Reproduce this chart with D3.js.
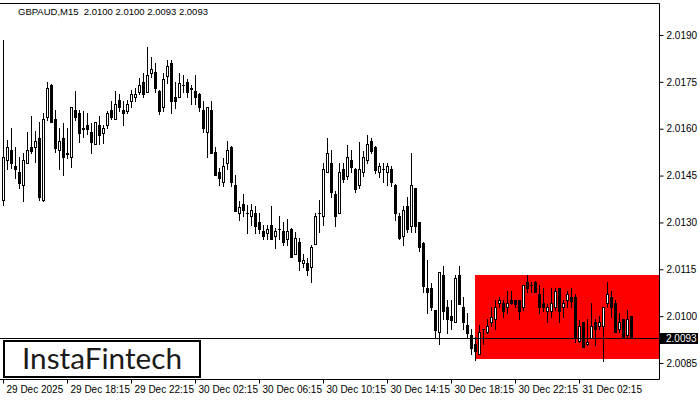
<!DOCTYPE html>
<html><head><meta charset="utf-8">
<script src="https://cdn.jsdelivr.net/npm/d3@7"></script>
<style>
html,body{margin:0;padding:0;background:#fff;}
svg{display:block;font-family:"Liberation Sans",Arial,sans-serif;}
</style></head>
<body><svg id="chart" width="700" height="400"></svg>
<script>
const title = "GBPAUD,M15  2.0100 2.0100 2.0093 2.0093";
const opens = [2.01372,2.01500,2.01532,2.01481,2.01460,2.01420,2.01489,2.01540,2.01540,2.01569,
2.01372,2.01639,2.01740,2.01630,2.01532,2.01569,2.01520,2.01508,2.01660,2.01651,
2.01602,2.01611,2.01590,2.01550,2.01611,2.01587,2.01611,2.01659,2.01630,2.01691,
2.01660,2.01658,2.01690,2.01701,2.01719,2.01751,2.01719,2.01779,2.01782,2.01721,
2.01669,2.01770,2.01809,2.01701,2.01701,2.01740,2.01750,2.01730,2.01721,2.01711,
2.01660,2.01590,2.01660,2.01524,2.01461,2.01428,2.01489,2.01542,2.01420,2.01329,
2.01358,2.01329,2.01319,2.01329,2.01300,2.01271,2.01267,2.01292,2.01258,2.01278,
2.01271,2.01247,2.01279,2.01199,2.01238,2.01169,2.01171,2.01158,2.01230,2.01329,
2.01319,2.01460,2.01491,2.01390,2.01329,2.01471,2.01450,2.01500,2.01471,2.01420,
2.01460,2.01500,2.01561,2.01542,2.01460,2.01471,2.01460,2.01471,2.01420,2.01321,
2.01258,2.01351,2.01290,2.01409,2.01300,2.01233,2.01089,2.01089,2.01020,2.00948,
2.01132,2.01028,2.01001,2.00980,2.01132,2.01028,2.00972,2.00940,2.00911,2.00879,
2.00958,2.00948,2.00980,2.00991,2.01041,2.01041,2.01028,2.01052,2.01052,2.01052,
2.01028,2.01110,2.01100,2.01110,2.01071,2.01041,2.01018,2.01018,2.01028,2.01089,
2.01028,2.01052,2.01060,2.01060,2.00922,2.00980,2.00911,2.00929,2.00980,2.00970,
2.00970,2.01041,2.01060,2.01041,2.00958,2.00991,2.00940,2.01000];
const highs = [2.01884,2.01564,2.01601,2.01540,2.01511,2.01521,2.01590,2.01641,2.01594,2.01623,
2.01649,2.01751,2.01743,2.01660,2.01601,2.01617,2.01601,2.01671,2.01721,2.01660,
2.01658,2.01649,2.01617,2.01622,2.01641,2.01612,2.01658,2.01690,2.01721,2.01711,
2.01690,2.01692,2.01724,2.01729,2.01761,2.01779,2.01863,2.01829,2.01809,2.01723,
2.01777,2.01820,2.01820,2.01751,2.01779,2.01772,2.01758,2.01740,2.01772,2.01713,
2.01690,2.01671,2.01690,2.01540,2.01473,2.01505,2.01561,2.01544,2.01452,2.01369,
2.01390,2.01356,2.01358,2.01351,2.01329,2.01292,2.01292,2.01351,2.01281,2.01319,
2.01300,2.01311,2.01281,2.01268,2.01249,2.01198,2.01185,2.01228,2.01329,2.01372,
2.01489,2.01569,2.01532,2.01401,2.01489,2.01491,2.01548,2.01532,2.01473,2.01559,
2.01529,2.01580,2.01569,2.01544,2.01489,2.01491,2.01491,2.01481,2.01422,2.01329,
2.01351,2.01383,2.01521,2.01410,2.01301,2.01238,2.01180,2.01105,2.01021,2.01142,
2.01161,2.01052,2.01052,2.01132,2.01161,2.01060,2.01009,2.00959,2.00932,2.00972,
2.00960,2.00991,2.01028,2.01052,2.01062,2.01052,2.01081,2.01081,2.01053,2.01053,
2.01100,2.01132,2.01110,2.01111,2.01100,2.01089,2.01039,2.01089,2.01089,2.01090,
2.01052,2.01081,2.01089,2.01071,2.00988,2.00981,2.00991,2.01041,2.00991,2.01001,
2.01028,2.01110,2.01082,2.01052,2.01009,2.00992,2.01020,2.01000];
const lows = [2.01356,2.01470,2.01473,2.01441,2.01409,2.01370,2.01489,2.01521,2.01495,2.01372,
2.01370,2.01628,2.01620,2.01527,2.01470,2.01452,2.01505,2.01479,2.01628,2.01559,
2.01575,2.01583,2.01521,2.01550,2.01550,2.01553,2.01601,2.01630,2.01630,2.01658,
2.01611,2.01649,2.01669,2.01690,2.01711,2.01701,2.01719,2.01767,2.01719,2.01647,
2.01658,2.01747,2.01649,2.01665,2.01701,2.01719,2.01701,2.01679,2.01679,2.01658,
2.01591,2.01508,2.01521,2.01452,2.01420,2.01418,2.01470,2.01418,2.01335,2.01308,
2.01319,2.01267,2.01292,2.01267,2.01267,2.01247,2.01247,2.01247,2.01219,2.01247,
2.01228,2.01228,2.01188,2.01199,2.01148,2.01158,2.01132,2.01108,2.01230,2.01268,
2.01292,2.01460,2.01383,2.01290,2.01329,2.01428,2.01439,2.01460,2.01399,2.01409,
2.01449,2.01489,2.01521,2.01457,2.01447,2.01428,2.01420,2.01418,2.01308,2.01247,
2.01228,2.01268,2.01268,2.01268,2.01210,2.01078,2.01009,2.01020,2.00932,2.00911,
2.00990,2.00947,2.00958,2.00980,2.01039,2.00958,2.00932,2.00879,2.00860,2.00879,
2.00911,2.00947,2.00969,2.00958,2.01028,2.00998,2.01009,2.01039,2.01028,2.00990,
2.01020,2.01078,2.01078,2.01078,2.01009,2.01018,2.00980,2.00998,2.01020,2.00980,
2.00998,2.01028,2.01028,2.00918,2.00918,2.00900,2.00908,2.00929,2.00908,2.00958,
2.00858,2.01028,2.00998,2.00948,2.00948,2.00929,2.00929,2.00930];
const closes = [2.01511,2.01540,2.01489,2.01470,2.01427,2.01500,2.01532,2.01530,2.01561,2.01380,
2.01631,2.01729,2.01620,2.01539,2.01561,2.01508,2.01522,2.01669,2.01639,2.01587,
2.01600,2.01600,2.01559,2.01622,2.01579,2.01601,2.01649,2.01639,2.01679,2.01670,
2.01649,2.01679,2.01711,2.01711,2.01740,2.01710,2.01772,2.01790,2.01729,2.01658,
2.01758,2.01801,2.01690,2.01690,2.01747,2.01741,2.01719,2.01728,2.01701,2.01669,
2.01601,2.01669,2.01521,2.01452,2.01441,2.01481,2.01532,2.01428,2.01338,2.01348,
2.01339,2.01330,2.01339,2.01290,2.01278,2.01258,2.01279,2.01247,2.01271,2.01280,
2.01238,2.01271,2.01188,2.01249,2.01178,2.01180,2.01148,2.01220,2.01321,2.01330,
2.01471,2.01521,2.01399,2.01319,2.01460,2.01439,2.01508,2.01479,2.01407,2.01471,
2.01508,2.01550,2.01529,2.01468,2.01481,2.01472,2.01481,2.01428,2.01329,2.01249,
2.01340,2.01279,2.01420,2.01290,2.01220,2.01098,2.01078,2.01028,2.00956,2.01140,
2.01018,2.00990,2.00988,2.01121,2.01039,2.00980,2.00947,2.00899,2.00890,2.00948,
2.00959,2.00970,2.00998,2.01028,2.01052,2.01018,2.01041,2.01041,2.01039,2.01018,
2.01099,2.01089,2.01101,2.01078,2.01028,2.01028,2.01028,2.01041,2.01081,2.01018,
2.01041,2.01071,2.01050,2.00929,2.00970,2.00900,2.00918,2.00970,2.00958,2.00980,
2.01028,2.01070,2.01028,2.00948,2.00980,2.00929,2.00991,2.00930];
const priceTicks = [2.0085,2.0100,2.0115,2.0130,2.0145,2.0160,2.0175,2.0190];
const timeTickBars = [0,16,32,48,64,80,96,112,128,144];
const timeTickLabels = ["29 Dec 2025","29 Dec 18:15","29 Dec 22:15","30 Dec 02:15","30 Dec 06:15","30 Dec 10:15","30 Dec 14:15","30 Dec 18:15","30 Dec 22:15","31 Dec 02:15"];
const currentPrice = 2.0093;
const rectStartBar = 118;
const rectTop = 2.01132, rectBottom = 2.00863;
const logoText = "InstaFintech";

const N = opens.length;
const svg = d3.select("#chart");
const plotL = 0, plotR = 659, plotT = 3, plotB = 379;

const x = d3.scaleLinear().domain([0, N - 1]).range([3, 3 + 4 * (N - 1)]);
const y = d3.scaleLinear().domain([2.0085, 2.0190]).range([363, 35]);
const Y = v => Math.round(y(v));

// red rectangle
svg.append("rect")
  .attr("x", Math.round(x(rectStartBar))).attr("y", Y(rectTop))
  .attr("width", plotR - Math.round(x(rectStartBar)) + 1)
  .attr("height", Y(rectBottom) - Y(rectTop))
  .attr("fill", "#ff0000");

// candles
const g = svg.append("g");
d3.range(N).forEach(i => {
  const cx = Math.round(x(i));
  const o = opens[i], h = highs[i], l = lows[i], c = closes[i];
  const yh = Y(h), yl = Y(l);
  g.append("rect").attr("x", cx).attr("y", yh).attr("width", 1).attr("height", Math.max(1, yl - yh + 1)).attr("fill", "#000");
  const top = Y(Math.max(o, c)), bot = Y(Math.min(o, c));
  if (bot - top < 1) {
    g.append("rect").attr("x", cx - 1).attr("y", top).attr("width", 3).attr("height", 1).attr("fill", "#000");
  } else if (c > o) {
    g.append("rect").attr("x", cx - 0.5).attr("y", top + 0.5).attr("width", 2).attr("height", bot - top)
      .attr("fill", "#fff").attr("stroke", "#000").attr("stroke-width", 1);
  } else {
    g.append("rect").attr("x", cx - 1).attr("y", top).attr("width", 3).attr("height", bot - top + 1).attr("fill", "#000");
  }
});

// current price line
svg.append("line").attr("x1", plotL).attr("x2", plotR + 1)
  .attr("y1", Y(currentPrice) + 0.5).attr("y2", Y(currentPrice) + 0.5)
  .attr("stroke", "#000").attr("stroke-width", 1);

// frame
svg.append("path")
  .attr("d", `M${plotL},${plotT + 0.5}H${plotR + 0.5}V${plotB + 0.5}H${plotL}`)
  .attr("fill", "none").attr("stroke", "#000").attr("stroke-width", 1);

// y axis
const ya = svg.append("g").attr("transform", `translate(${plotR + 0.5},0)`)
  .call(d3.axisRight(y).tickValues(priceTicks).tickSize(4).tickPadding(3).tickFormat(d3.format(".4f")));
ya.select(".domain").remove();
ya.selectAll("text").attr("font-size", 10).attr("font-family", "Liberation Sans, Arial, sans-serif").attr("fill", "#000");
ya.selectAll("line").attr("stroke", "#000");

// x axis
const xa = svg.append("g").attr("transform", `translate(0,${plotB + 0.5})`)
  .call(d3.axisBottom(x).tickValues(timeTickBars).tickSize(4).tickFormat((d, i) => timeTickLabels[i]));
xa.select(".domain").remove();
xa.selectAll("text").attr("text-anchor", "start").attr("x", 3).attr("y", 6)
  .attr("font-size", 10).attr("font-family", "Liberation Sans, Arial, sans-serif").attr("fill", "#000");
xa.selectAll("line").attr("stroke", "#000");

// current price label
const cpY = Y(currentPrice);
svg.append("rect").attr("x", plotR + 1).attr("y", cpY - 5).attr("width", 38).attr("height", 11).attr("fill", "#000");
svg.append("text").attr("x", plotR + 7).attr("y", cpY + 4).attr("font-size", 10).attr("fill", "#fff").text(d3.format(".4f")(currentPrice));

// title
svg.append("text").attr("x", 18).attr("y", 15).attr("font-size", 9.5).attr("fill", "#000")
  .style("white-space", "pre").text(title);

// logo
svg.append("rect").attr("x", 4).attr("y", 341).attr("width", 196).attr("height", 36)
  .attr("fill", "#fff").attr("stroke", "#000").attr("stroke-width", 2);
svg.append("text").attr("x", 22).attr("y", 369).attr("font-size", 28)
  .attr("font-family", "Lato, 'Open Sans', sans-serif").attr("fill", "#1a1a1a")
  .attr("textLength", 160).attr("lengthAdjust", "spacingAndGlyphs").text(logoText);
</script></body></html>
